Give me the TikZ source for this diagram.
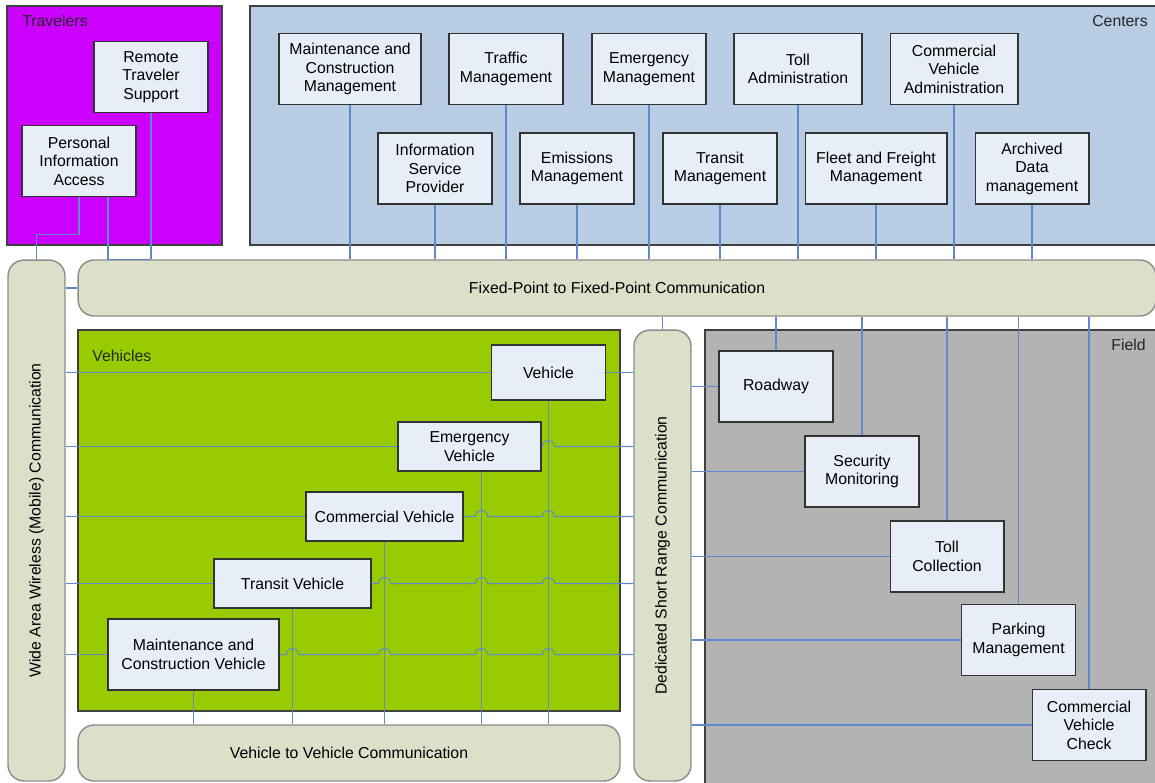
\documentclass[tikz,border=0pt]{standalone}
\usepackage{fontspec}
\setmainfont{Liberation Sans}
\usetikzlibrary{calc}

\definecolor{travfill}{HTML}{CC00FF}
\definecolor{centfill}{HTML}{B8CCE4}
\definecolor{vehfill}{HTML}{99CC00}
\definecolor{fieldfill}{HTML}{B3B3B3}
\definecolor{busfill}{HTML}{DCE0C9}
\definecolor{boxfill}{HTML}{E8EEF8}
\definecolor{linkblue}{HTML}{5E8ACB}

\begin{document}
\begin{tikzpicture}[x=0.02cm, y=-0.02cm,
    font=\fontsize{9}{10.5}\selectfont,
    area/.style={draw=black!75, line width=0.6pt},
    tag/.style={inner sep=0pt, text=black!85},
    box/.style={draw=black!80, fill=boxfill, line width=0.6pt, align=center,
      inner sep=1pt, minimum width=2.28cm, minimum height=1.42cm},
    bus/.style={draw=black!45, fill=busfill, line width=0.8pt,
      rounded corners=0.32cm, inner sep=0pt},
    link/.style={draw=linkblue, line width=0.6pt}]

      \clip (0,0) rectangle (1155,782);

      % areas
      \filldraw[area, fill=travfill] (7,6) rectangle (222,245);
      \filldraw[area, fill=centfill] (250,6) rectangle (1170,245);
      \filldraw[area, fill=vehfill] (78,330) rectangle (620,711);
      \filldraw[area, fill=fieldfill] (705,330) rectangle (1170,800);
      \node[tag, anchor=west] (travlbl) at (22,21) {Travelers};
      \node[tag, anchor=east] (centlbl) at (1148,21) {Centers};
      \node[tag, anchor=west] (vehlbl) at (92,356) {Vehicles};
      \node[tag, anchor=east] (fieldlbl) at (1146,345) {Field};

      % communication buses
      \node[bus, minimum width=21.56cm, minimum height=1.12cm] (fp) at (617,288) {Fixed-Point to Fixed-Point Communication};
      \node[bus, minimum width=1.14cm, minimum height=10.42cm] (wa) at (36.5,520.5) {};
      \node[rotate=90] (watext) at (wa) {Wide Area Wireless (Mobile) Communication};
      \node[bus, minimum width=1.14cm, minimum height=9.02cm] (dsrc) at (662.5,555.5) {};
      \node[rotate=90] (dsrctext) at (dsrc) {Dedicated Short Range Communication};
      \node[bus, minimum width=10.84cm, minimum height=1.12cm] (v2v) at (349,753) {Vehicle to Vehicle Communication};

      % travelers
      \node[box] (rts) at (151,77) {Remote\\Traveler\\Support};
      \node[box] (pia) at (79,161) {Personal\\Information\\Access};

      % centers
      \node[box, minimum width=2.84cm] (mcm) at (350,69) {Maintenance and\\Construction\\Management};
      \node[box] (tm) at (506,69) {Traffic\\Management};
      \node[box] (em) at (649,69) {Emergency\\Management};
      \node[box, minimum width=2.56cm] (ta) at (798,69) {Toll\\Administration};
      \node[box, minimum width=2.56cm] (cva) at (954,69) {Commercial\\Vehicle\\Administration};
      \node[box] (isp) at (435,168.5) {Information\\Service\\Provider};
      \node[box] (emm) at (577,168.5) {Emissions\\Management};
      \node[box] (trm) at (720,168.5) {Transit\\Management};
      \node[box, minimum width=2.84cm] (ffm) at (876,168.5) {Fleet and Freight\\Management};
      \node[box] (adm) at (1032,168.5) {Archived\\Data\\management};

      % vehicles
      \node[box, minimum height=1.1cm] (veh) at (548.5,372.5) {Vehicle};
      \node[box, minimum width=2.86cm, minimum height=0.98cm] (ev) at (469.5,446.5) {Emergency\\Vehicle};
      \node[box, minimum width=3.14cm, minimum height=0.98cm] (cv) at (384.5,516.5) {Commercial Vehicle};
      \node[box, minimum width=3.14cm, minimum height=0.98cm] (tv) at (292.5,583.5) {Transit Vehicle};
      \node[box, minimum width=3.42cm] (mcv) at (193.5,654.5) {Maintenance and\\Construction Vehicle};

      % field
      \node[box] (rw) at (776,386.5) {Roadway};
      \node[box] (sm) at (862,471.5) {Security\\Monitoring};
      \node[box] (tc) at (947,556.5) {Toll\\Collection};
      \node[box] (pm) at (1018.5,640) {Parking\\Management};
      \node[box] (cvc) at (1089,725) {Commercial\\Vehicle\\Check};

      % links to the fixed-point bus
      \draw[link] (pia.south) -- ++(0,37) -| (wa.north);
      \draw[link] ($(pia.south)+(29,0)$) |- (rts.south |- fp.north);
      \path[link] (rts) edge (rts.south |- fp.north);
      \path[link] (wa.east |- fp.west) edge (fp);
      \foreach \c in {mcm,tm,em,ta,cva,isp,emm,trm,ffm,adm}
        \path[link] (\c) edge (\c.south |- fp.north);
      \path[link] (dsrc) edge (dsrc.north |- fp.south);

      % links to the field
      \foreach \f in {rw,sm,tc,pm,cvc} {
        \path[link] (\f) edge (\f.north |- fp.south);
        \path[link] (\f) edge (\f.west -| dsrc.east);
      }

      % links from the vehicles
      \coordinate (evdrop) at ($(ev.south)+(12,0)$);
      \foreach \v in {veh,ev,cv,tv,mcv}
        \path[link] (\v) edge (\v.west -| wa.east);
      \foreach \v in {veh,cv,tv,mcv}
        \path[link] (\v) edge (\v.south |- v2v.north);
      \path[link] (evdrop) edge (evdrop |- v2v.north);

      \path[link] (veh) edge (veh.east -| dsrc.west);
      \draw[link] (ev.east) -- ($(veh.south |- ev.east)+(-6,0)$) arc[start angle=180, end angle=0, radius=0.12cm]
        -- (ev.east -| dsrc.west);
      \draw[link] (cv.east) -- ($(evdrop |- cv.east)+(-6,0)$) arc[start angle=180, end angle=0, radius=0.12cm]
        -- ($(veh.south |- cv.east)+(-6,0)$) arc[start angle=180, end angle=0, radius=0.12cm]
        -- (cv.east -| dsrc.west);
      \draw[link] (tv.east) -- ($(cv.south |- tv.east)+(-6,0)$) arc[start angle=180, end angle=0, radius=0.12cm]
        -- ($(evdrop |- tv.east)+(-6,0)$) arc[start angle=180, end angle=0, radius=0.12cm]
        -- ($(veh.south |- tv.east)+(-6,0)$) arc[start angle=180, end angle=0, radius=0.12cm]
        -- (tv.east -| dsrc.west);
      \draw[link] (mcv.east) -- ($(tv.south |- mcv.east)+(-6,0)$) arc[start angle=180, end angle=0, radius=0.12cm]
        -- ($(cv.south |- mcv.east)+(-6,0)$) arc[start angle=180, end angle=0, radius=0.12cm]
        -- ($(evdrop |- mcv.east)+(-6,0)$) arc[start angle=180, end angle=0, radius=0.12cm]
        -- ($(veh.south |- mcv.east)+(-6,0)$) arc[start angle=180, end angle=0, radius=0.12cm]
        -- (mcv.east -| dsrc.west);
    \end{tikzpicture}
\end{document}
